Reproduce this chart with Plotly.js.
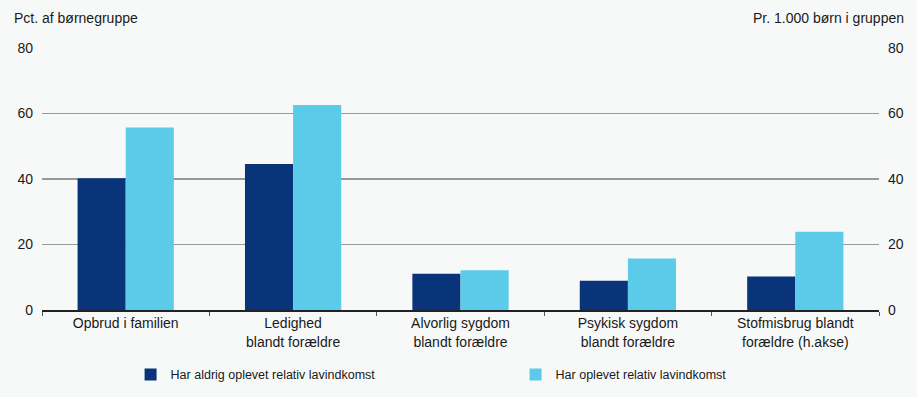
<!DOCTYPE html>
<html>
<head>
<meta charset="utf-8">
<script src="https://cdn.plot.ly/plotly-3.0.1.min.js"></script>
<style>html,body{margin:0;padding:0;background:#f7f9f9;}</style>
</head>
<body>
<div id="chart" style="width:917px;height:397px;"></div>
<script>
const categories = [
  "Opbrud i familien",
  "Ledighed<br>blandt forældre",
  "Alvorlig sygdom<br>blandt forældre",
  "Psykisk sygdom<br>blandt forældre",
  "Stofmisbrug blandt<br>forældre (h.akse)"
];
const aldrigLavindkomst = [40.2, 44.6, 11.1, 8.9, 10.2];
const oplevetLavindkomst = [55.7, 62.6, 12.1, 15.7, 23.9];
const seriesNames = ["Har aldrig oplevet relativ lavindkomst", "Har oplevet relativ lavindkomst"];
const yTicks = [0, 20, 40, 60, 80];

const font = {family: "Liberation Sans, Arial, sans-serif", size: 14, color: "#1a1a1a"};
const legendFont = {family: "Liberation Sans, Arial, sans-serif", size: 12.5, color: "#1a1a1a"};

const data = [
  {type: "bar", x: categories, y: aldrigLavindkomst, name: seriesNames[0], marker: {color: "#0a347a"}},
  {type: "bar", x: categories, y: oplevetLavindkomst, name: seriesNames[1], marker: {color: "#5ccbea"}},
  {type: "bar", x: [categories[0]], y: [null], yaxis: "y2", showlegend: false, hoverinfo: "skip"}
];

const layout = {
  width: 917, height: 397,
  margin: {l: 42, r: 38, t: 48, b: 87, autoexpand: false},
  paper_bgcolor: "#f7f9f9", plot_bgcolor: "#f7f9f9",
  font: font,
  barmode: "group", bargap: 0.425, bargroupgap: 0,
  showlegend: true,
  legend: {orientation: "h", xref: "container", x: 0.1424, xanchor: "left", y: -0.248, yanchor: "middle",
           entrywidth: 340, itemwidth: 30, font: legendFont, traceorder: "normal", bgcolor: "rgba(0,0,0,0)"},
  xaxis: {type: "category", tickson: "boundaries", ticks: "outside", ticklen: 4, tickcolor: "#555",
          showline: true, linecolor: "#222", linewidth: 1.5, showgrid: false, tickfont: font, fixedrange: true},
  yaxis: {range: [0, 80], tickvals: yTicks, showgrid: true, gridcolor: "#999", gridwidth: 1.3,
          zeroline: false, showline: false, ticks: "", ticklabelstandoff: 8, tickfont: font},
  yaxis2: {range: [0, 80], tickvals: yTicks, overlaying: "y", side: "right", showgrid: false,
           zeroline: false, showline: false, ticks: "", ticklabelstandoff: 8, tickfont: font},
  annotations: [
    {text: "Pct. af børnegruppe", xref: "paper", yref: "paper", x: 0, xshift: -30, y: 1, yshift: 30,
     xanchor: "left", yanchor: "middle", showarrow: false, font: font},
    {text: "Pr. 1.000 børn i gruppen", xref: "paper", yref: "paper", x: 1, xshift: 27, y: 1, yshift: 30,
     xanchor: "right", yanchor: "middle", showarrow: false, font: font}
  ]
};

Plotly.newPlot("chart", data, layout, {displayModeBar: false, staticPlot: true});
</script>
</body>
</html>
